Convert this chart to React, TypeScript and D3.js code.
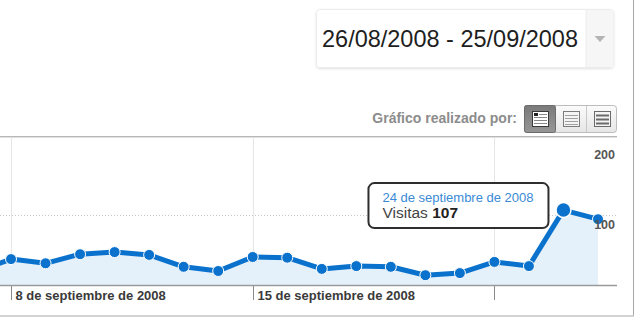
import React from "react";
import * as d3 from "d3";

const days: string[] = [
  "2008-09-07", "2008-09-08", "2008-09-09", "2008-09-10", "2008-09-11", "2008-09-12",
  "2008-09-13", "2008-09-14", "2008-09-15", "2008-09-16", "2008-09-17", "2008-09-18",
  "2008-09-19", "2008-09-20", "2008-09-21", "2008-09-22", "2008-09-23", "2008-09-24",
  "2008-09-25",
];
const visits: number[] = [19, 37, 31, 44, 47, 43, 26, 20, 40, 39, 23, 27, 26, 14, 17, 33, 27, 107, 94];
const tickDays: string[] = ["2008-09-08", "2008-09-15", "2008-09-22"];
const tickLabels: string[] = ["8 de septiembre de 2008", "15 de septiembre de 2008", ""];
const yTicks: number[] = [100, 200];
const rangeLabel = "26/08/2008 - 25/09/2008";
const byLabel = "Gráfico realizado por:";
const tipDate = "24 de septiembre de 2008";
const tipMetric = "Visitas";
const tipIndex = 17;

const W = 640;
const H = 324;
const FONT = "'Liberation Sans', Arial, sans-serif";

export default function App() {
  const parse = d3.timeParse("%Y-%m-%d");
  const dates = days.map((d) => parse(d) as Date);
  const x = d3.scaleTime().domain([dates[0], dates[dates.length - 1]]).range([-23.5, 598]);
  const y = d3.scaleLinear().domain([0, 200]).range([285, 145]);
  const data = dates.map((d, i) => ({ d, v: visits[i] }));
  const line = d3.line<{ d: Date; v: number }>().x((p) => x(p.d)).y((p) => y(p.v));
  const area = d3
    .area<{ d: Date; v: number }>()
    .x((p) => x(p.d))
    .y0(y(0))
    .y1((p) => y(p.v));

  const tp = data[tipIndex];
  const tx = x(tp.d);
  const ty = y(tp.v);
  const tipR = tx - 15;
  const tipL = tipR - 180;
  const tipT = ty - 27;

  return (
    <svg
      width={W}
      height={H}
      style={{ position: "absolute", left: 0, top: 0, background: "#fff" }}
      fontFamily={FONT}
    >
      <defs>
        <linearGradient id="btnLight" x1="0" y1="0" x2="0" y2="1">
          <stop offset="0" stopColor="#fbfbfb" />
          <stop offset="1" stopColor="#e6e6e6" />
        </linearGradient>
        <linearGradient id="btnDark" x1="0" y1="0" x2="0" y2="1">
          <stop offset="0" stopColor="#7a7a7a" />
          <stop offset="1" stopColor="#969696" />
        </linearGradient>
        <filter id="sh" x="-5%" y="-10%" width="110%" height="130%">
          <feDropShadow dx="0" dy="1" stdDeviation="0.8" floodColor="#000" floodOpacity="0.12" />
        </filter>
        <clipPath id="plotClip">
          <rect x={0} y={137} width={617} height={150} />
        </clipPath>
      </defs>

      {/* outer frame */}
      <line x1={633.5} y1={0} x2={633.5} y2={316} stroke="#a8a8a8" />
      <line x1={0} y1={316} x2={634} y2={316} stroke="#c4c4c4" strokeWidth={1.5} />

      {/* date range box */}
      <rect x={316.5} y={9.5} width={297} height={58} rx={3} fill="#fff" stroke="#ececec" filter="url(#sh)" />
      <rect x={586} y={10} width={27.5} height={57} fill="#f6f6f6" />
      <line x1={586} y1={10} x2={586} y2={67} stroke="#ececec" />
      <path d="M594.5,36 L605.5,36 L600,42 Z" fill="#b4b4b4" />
      <text x={322} y={47} fontSize={24} fill="#1e1e1e" textLength={256} lengthAdjust="spacingAndGlyphs">
        {rangeLabel}
      </text>

      {/* chart by buttons */}
      <text x={517} y={122.5} fontSize={14} fontWeight="bold" fill="#8c8c8c" textAnchor="end">
        {byLabel}
      </text>
      <rect x={524.5} y={105.5} width={92} height={27} rx={3} fill="url(#btnLight)" stroke="#bcbcbc" />
      <rect x={524.5} y={105.5} width={31} height={27} rx={2} fill="url(#btnDark)" stroke="#6c6c6c" />
      <line x1={586.5} y1={106} x2={586.5} y2={132} stroke="#c8c8c8" />
      {/* icon 1 */}
      <rect x={532.5} y={111.5} width={16} height={15} fill="#fff" stroke="#3a3a3a" />
      <rect x={534} y={113} width={4} height={3} fill="#222" />
      {[117, 120, 123].map((yy) => (
        <line key={yy} x1={534} x2={547} y1={yy + 0.5} y2={yy + 0.5} stroke="#888" />
      ))}
      <line x1={539} x2={547} y1={114.5} y2={114.5} stroke="#888" />
      {/* icon 2 */}
      <rect x={563.5} y={111.5} width={16} height={15} fill="#f4f4f4" stroke="#7a7a7a" />
      {[115, 118, 121, 124].map((yy) => (
        <line key={yy} x1={565} x2={578} y1={yy + 0.5} y2={yy + 0.5} stroke="#a0a0a0" />
      ))}
      {/* icon 3 */}
      <rect x={594.5} y={111.5} width={16} height={15} fill="#f4f4f4" stroke="#6a6a6a" />
      {[114.5, 118.5, 122.5].map((yy) => (
        <rect key={yy} x={596} width={13} y={yy} height={2} fill="#6a6a6a" />
      ))}

      {/* chart top separator */}
      <line x1={0} y1={136.5} x2={617} y2={136.5} stroke="#b8b8b8" />
      <line x1={0} y1={137.5} x2={617} y2={137.5} stroke="#e0e0e0" />

      {/* vertical gridlines + ticks */}
      {tickDays.map((t, i) => {
        const xx = Math.round(x(parse(t) as Date)) + 0.5;
        return (
          <g key={t}>
            <line x1={xx} x2={xx} y1={138} y2={285} stroke="#e6e6e6" />
            <line x1={xx} x2={xx} y1={285} y2={300} stroke="#8a8a8a" />
            {tickLabels[i] ? (
              <text x={xx + 4} y={300} fontSize={13} fontWeight="bold" fill="#3a3a3a">
                {tickLabels[i]}
              </text>
            ) : null}
          </g>
        );
      })}

      {/* horizontal dotted gridline */}
      {yTicks
        .filter((t) => t < 200)
        .map((t) => (
          <line
            key={t}
            x1={0}
            x2={617}
            y1={Math.round(y(t)) + 0.5}
            y2={Math.round(y(t)) + 0.5}
            stroke="#c8c8c8"
            strokeDasharray="1 2"
          />
        ))}

      {/* series */}
      <g clipPath="url(#plotClip)">
        <path d={area(data) || ""} fill="#e4f0fa" />
        <path d={line(data) || ""} fill="none" stroke="#0a72cc" strokeWidth={5} strokeLinejoin="round" />
        {data.map((p, i) => (
          <circle
            key={i}
            cx={x(p.d)}
            cy={y(p.v)}
            r={i === tipIndex ? 7.5 : 5.5}
            fill="#0a72cc"
            stroke="#fff"
            strokeWidth={i === tipIndex ? 1.5 : 1}
          />
        ))}
      </g>

      {/* x axis line */}
      <line x1={0} x2={617} y1={285.5} y2={285.5} stroke="#9a9a9a" strokeWidth={1.5} />

      {/* y labels */}
      {yTicks.map((t) => (
        <text key={t} x={615} y={y(t) + 14} fontSize={12.5} fontWeight="bold" fill="#555" textAnchor="end">
          {t}
        </text>
      ))}

      {/* tooltip */}
      <rect
        x={tipL}
        y={tipT}
        width={180}
        height={45}
        rx={6}
        fill="#fff"
        stroke="#2e2e2e"
        strokeWidth={2}
      />
      <text x={tipL + 14} y={tipT + 19} fontSize={13} fill="#3a8ad6">
        {tipDate}
      </text>
      <text x={tipL + 14} y={tipT + 35} fontSize={15.5} fill="#444">
        {tipMetric}{" "}
        <tspan fontWeight="bold" fill="#222">
          {tp.v}
        </tspan>
      </text>
    </svg>
  );
}
